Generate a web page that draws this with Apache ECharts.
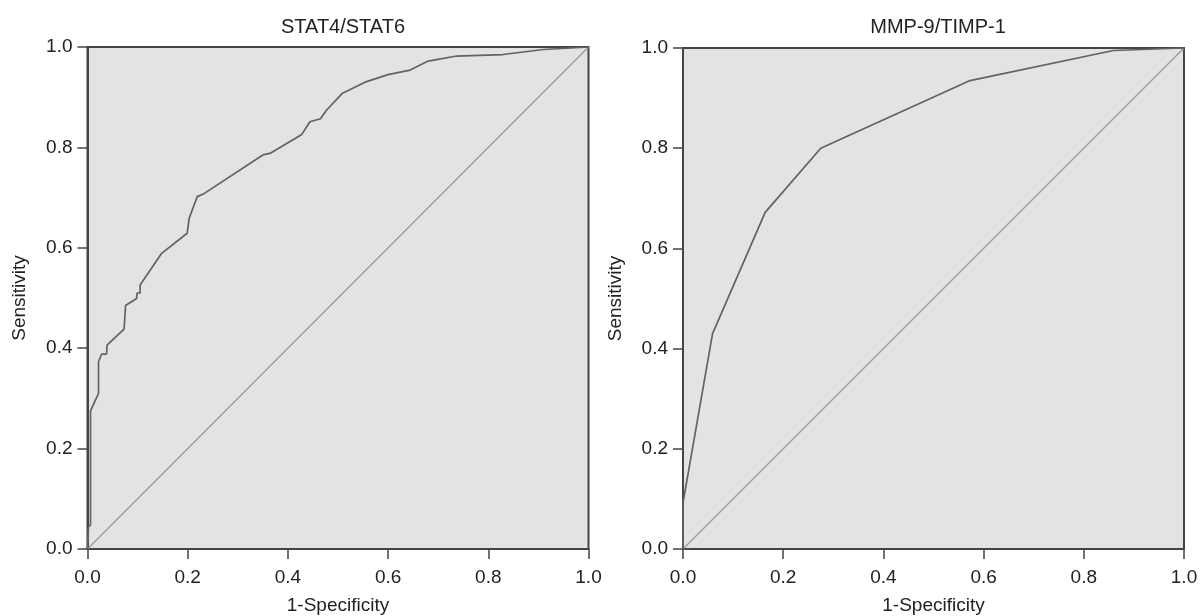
<!DOCTYPE html>
<html>
<head>
<meta charset="utf-8">
<script src="https://cdn.jsdelivr.net/npm/echarts@6/dist/echarts.min.js"></script>
<style>
  html, body { margin: 0; padding: 0; background: #fff; }
  #chart { width: 1201px; height: 616px; }
</style>
</head>
<body>
<div id="chart"></div>
<script>
// ROC curve points [1-specificity, sensitivity]
const statRoc = [
  [0, 0], [0.002, 0.044], [0.006, 0.048], [0.006, 0.275], [0.022, 0.31],
  [0.022, 0.373], [0.028, 0.388], [0.038, 0.388], [0.039, 0.406],
  [0.073, 0.438], [0.076, 0.485], [0.098, 0.499], [0.099, 0.51],
  [0.105, 0.51], [0.105, 0.526], [0.148, 0.589], [0.199, 0.629],
  [0.203, 0.659], [0.219, 0.702], [0.231, 0.707], [0.350, 0.785],
  [0.364, 0.788], [0.427, 0.825], [0.444, 0.851], [0.465, 0.857],
  [0.477, 0.874], [0.509, 0.908], [0.554, 0.930], [0.600, 0.945],
  [0.644, 0.954], [0.680, 0.972], [0.737, 0.982], [0.829, 0.985],
  [0.910, 0.995], [1, 1]
];
const mmpRoc = [
  [0, 0], [0, 0.092], [0.059, 0.43], [0.164, 0.672], [0.275, 0.80],
  [0.573, 0.935], [0.859, 0.995], [1, 1]
];
const diagonal = [[0, 0], [1, 1]];
const titles = ["STAT4/STAT6", "MMP-9/TIMP-1"];
const xName = "1-Specificity";
const yName = "Sensitivity";

const font = "Liberation Sans, Arial, sans-serif";
const textColor = "#222";
const axisColor = "#444";
const fs = 19;

function xAxisFor(i) {
  return {
    gridIndex: i, type: "value", min: 0, max: 1, interval: 0.2,
    name: xName, nameLocation: "middle", nameGap: 47,
    nameTextStyle: { fontFamily: font, fontSize: fs, color: textColor },
    axisLine: { show: true, onZero: false, lineStyle: { color: axisColor, width: 2 } },
    axisTick: { show: true, length: 10, lineStyle: { color: axisColor, width: 1.5 } },
    axisLabel: { fontFamily: font, fontSize: fs, color: textColor, margin: 19,
      formatter: v => v.toFixed(1) },
    splitLine: { show: false }
  };
}
function yAxisFor(i) {
  return {
    gridIndex: i, type: "value", min: 0, max: 1, interval: 0.2,
    name: yName, nameLocation: "middle", nameGap: 58,
    nameTextStyle: { fontFamily: font, fontSize: fs, color: textColor },
    axisLine: { show: true, onZero: false, lineStyle: { color: axisColor, width: 2 } },
    axisTick: { show: true, length: 10, lineStyle: { color: axisColor, width: 1.5 } },
    axisLabel: { fontFamily: font, fontSize: fs, color: textColor, margin: 15,
      formatter: v => v.toFixed(1) },
    splitLine: { show: false }
  };
}
function curve(i, data) {
  return { type: "line", xAxisIndex: i, yAxisIndex: i, data: data,
    symbol: "none", silent: true,
    lineStyle: { color: "#626262", width: 1.7 } };
}
function diag(i) {
  return { type: "line", xAxisIndex: i, yAxisIndex: i, data: diagonal,
    symbol: "none", silent: true,
    lineStyle: { color: "#999", width: 1.2 } };
}

const chart = echarts.init(document.getElementById("chart"));
chart.setOption({
  animation: false,
  backgroundColor: "#fff",
  title: [
    { text: titles[0], left: 338, top: 12, textAlign: "center",
      textStyle: { fontFamily: font, fontSize: 20, fontWeight: "normal", color: textColor } },
    { text: titles[1], left: 933, top: 12, textAlign: "center",
      textStyle: { fontFamily: font, fontSize: 20, fontWeight: "normal", color: textColor } }
  ],
  grid: [
    { left: 87.5, width: 501, top: 47, height: 502, show: true, outerBoundsMode: "none",
      backgroundColor: "#e2e3e5", borderColor: axisColor, borderWidth: 2 },
    { left: 683, width: 501, top: 48, height: 501, show: true, outerBoundsMode: "none",
      backgroundColor: "#e2e3e5", borderColor: axisColor, borderWidth: 2 }
  ],
  xAxis: [xAxisFor(0), xAxisFor(1)],
  yAxis: [yAxisFor(0), yAxisFor(1)],
  series: [diag(0), curve(0, statRoc), diag(1), curve(1, mmpRoc)]
});
</script>
</body>
</html>
